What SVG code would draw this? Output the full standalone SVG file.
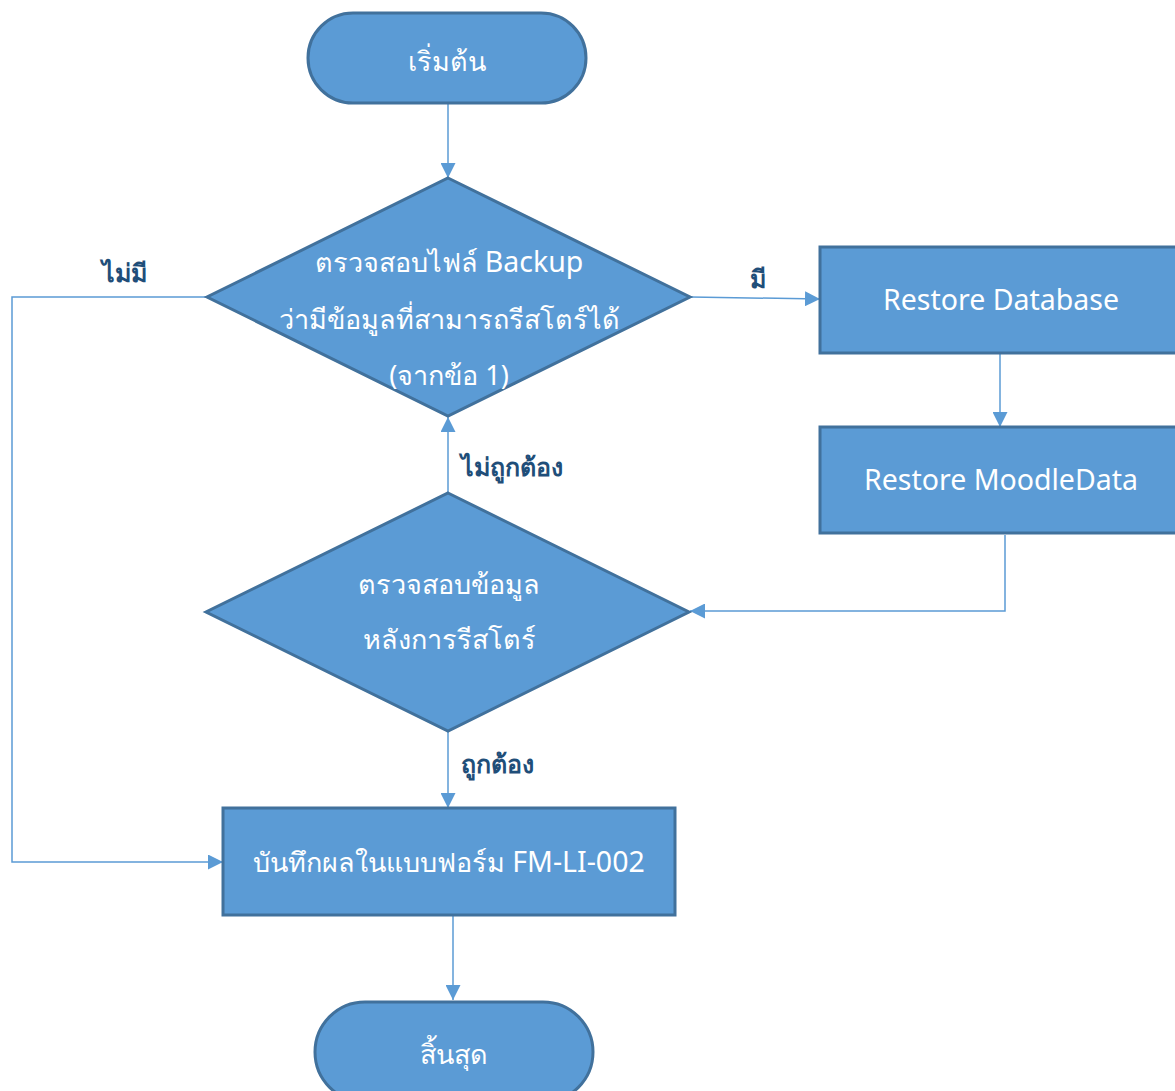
<svg xmlns="http://www.w3.org/2000/svg" width="1175" height="1091" viewBox="0 0 1175 1091">
<style>
.shape{fill:#5b9bd5;stroke:#41719c;stroke-width:3}
.t{font-family:"Noto Sans","DejaVu Sans",sans-serif;font-size:27px;fill:#ffffff;text-anchor:middle;dominant-baseline:central}
.en{font-size:28.5px}
.lbl{font-family:"Noto Sans","DejaVu Sans",sans-serif;font-size:25px;font-weight:bold;fill:#1f4e79;dominant-baseline:central}
.c{fill:none;stroke:#5b9bd5;stroke-width:1.5}
</style>
<defs>
<marker id="arr" viewBox="0 0 10 10" refX="10" refY="5" markerWidth="15" markerHeight="15" markerUnits="userSpaceOnUse" orient="auto">
<path d="M0,0 L10,5 L0,10 z" fill="#5b9bd5"/>
</marker>
</defs>
<g id="connectors">
<path class="c" d="M448,103 L448,178" marker-end="url(#arr)"/>
<path class="c" d="M691,297 L820,299" marker-end="url(#arr)"/>
<path class="c" d="M1000,353 L1000,427" marker-end="url(#arr)"/>
<path class="c" d="M1005,535 L1005,611 L690,611" marker-end="url(#arr)"/>
<path class="c" d="M448,492 L448,417" marker-end="url(#arr)"/>
<path class="c" d="M448,732 L448,808" marker-end="url(#arr)"/>
<path class="c" d="M207,297 L12,297 L12,862 L223,862" marker-end="url(#arr)"/>
<path class="c" d="M453,915 L453,1000" marker-end="url(#arr)"/>
<text class="lbl" x="102" y="272">ไม่มี</text>
<text class="lbl" x="750" y="278">มี</text>
<text class="lbl" x="461" y="466">ไม่ถูกต้อง</text>
<text class="lbl" x="461" y="763">ถูกต้อง</text>
</g>
<g id="start">
<rect class="shape" x="308" y="13" width="278" height="90" rx="45" ry="45"/>
<text class="t" x="447" y="60">เริ่มต้น</text>
</g>
<g id="check-backup">
<polygon class="shape" points="448,178 690,297 448,416 207,297"/>
<text class="t" x="449" y="261">ตรวจสอบไฟล์ <tspan class="en">Backup</tspan></text>
<text class="t" x="449" y="318">ว่ามีข้อมูลที่สามารถรีสโตร์ได้</text>
<text class="t" x="449" y="374">(จากข้อ 1)</text>
</g>
<g id="restore-database">
<rect class="shape" x="820" y="247" width="360" height="106"/>
<text class="t en" x="1001" y="299">Restore Database</text>
</g>
<g id="restore-moodledata">
<rect class="shape" x="820" y="427" width="360" height="106"/>
<text class="t en" x="1001" y="479">Restore MoodleData</text>
</g>
<g id="check-data">
<polygon class="shape" points="448,493 689,612 448,731 206,612"/>
<text class="t" x="449" y="583">ตรวจสอบข้อมูล</text>
<text class="t" x="449" y="638">หลังการรีสโตร์</text>
</g>
<g id="record">
<rect class="shape" x="223" y="808" width="452" height="107"/>
<text class="t" x="449" y="861">บันทึกผลในแบบฟอร์ม <tspan class="en">FM-LI-002</tspan></text>
</g>
<g id="end">
<rect class="shape" x="315" y="1002" width="278" height="100" rx="50" ry="50"/>
<text class="t" x="454" y="1053">สิ้นสุด</text>
</g>
</svg>
